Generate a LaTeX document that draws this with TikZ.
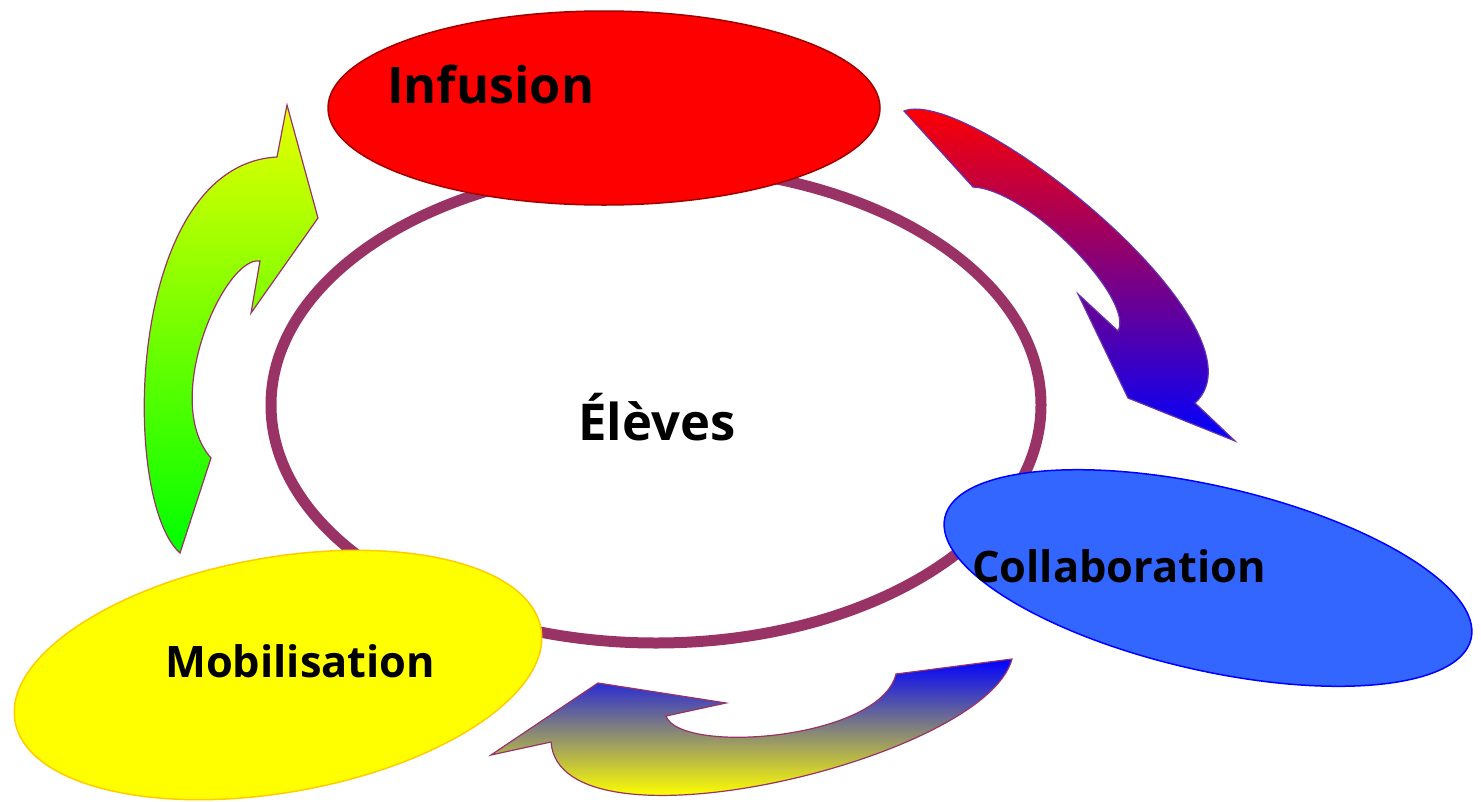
\documentclass[tikz,border=0pt]{standalone}
\usepackage{fontspec}
\setmainfont{Open Sans}
\usetikzlibrary{shapes.geometric}
\definecolor{ringc}{HTML}{993366}
\definecolor{infb}{HTML}{A00000}
\definecolor{infc}{HTML}{FF0000}
\definecolor{colc}{HTML}{3366FF}
\definecolor{colb}{HTML}{0000FF}
\definecolor{mobc}{HTML}{FFFF00}
\definecolor{mobb}{HTML}{FFCC00}
\definecolor{gtop}{HTML}{E8FF00}
\definecolor{gbot}{HTML}{00FF00}
\definecolor{rbb}{HTML}{6633AA}
\tikzset{
  blob/.style={ellipse, inner sep=0pt, line width=1.5pt},
  lbl/.style={anchor=base west, inner sep=0pt, font=\bfseries},
  arr/.style={line width=1.2pt, draw=ringc}
}
\newcommand\gpath{(287,105) -- (318,218) -- (251,313) -- (260,261)
  .. controls (225,255) and (160,400) .. (211,458) -- (180,553)
  .. controls (120,500) and (125,165) .. (277,157) -- cycle}
\newcommand\rbpath{(904,111) .. controls (970,85) and (1275,330) .. (1195,403)
  -- (1235,441) -- (1128,398) -- (1078,294) -- (1118,331)
  .. controls (1135,300) and (1030,190) .. (973,187) -- cycle}
\newcommand\bypath{(1012,659) .. controls (985,760) and (560,860) .. (551,742)
  -- (491,755) -- (598,683) -- (726,703) -- (666,716)
  .. controls (680,755) and (880,740) .. (896,674) -- cycle}
\begin{document}
\begin{tikzpicture}[x=1pt,y=-1pt]
\useasboundingbox (0,0) rectangle (1481,801);
% ring
\node[ellipse, draw=ringc, line width=11pt, inner sep=0pt,
      minimum width=770pt, minimum height=476pt] (ring) at (656,405) {};
% ellipses
\node[blob, fill=infc, draw=infb, minimum width=552pt, minimum height=194pt] (inf) at (604,108) {};
\node[blob, fill=colc, draw=colb, minimum width=540pt, minimum height=184pt, rotate=-13] (col) at (1208,578) {};
\node[blob, fill=mobc, draw=mobb, minimum width=534pt, minimum height=235pt, rotate=10] (mob) at (278,675) {};
% arrows
\begin{scope}
  \clip \gpath;
  \shade[top color=gtop, bottom color=gbot] (120,105) rectangle (330,553);
\end{scope}
\draw[arr] \gpath;
\begin{scope}
  \clip \rbpath;
  \shade[top color=red, bottom color=blue] (890,105) rectangle (1240,441);
\end{scope}
\draw[arr, draw=rbb] \rbpath;
\begin{scope}
  \clip \bypath;
  \shade[top color=blue, bottom color=yellow] (485,659) rectangle (1015,796);
\end{scope}
\draw[arr] \bypath;
% labels
\node[lbl] (tinf) at (387,103) {\resizebox{207pt}{!}{Infusion}};
\node[lbl] (tcol) at (972,582) {\resizebox{294pt}{!}{Collaboration}};
\node[lbl] (tmob) at (165,677) {\resizebox{270pt}{!}{Mobilisation}};
\node[lbl] (tele) at (578,440) {\resizebox{157pt}{!}{Élèves}};
\end{tikzpicture}
\end{document}
